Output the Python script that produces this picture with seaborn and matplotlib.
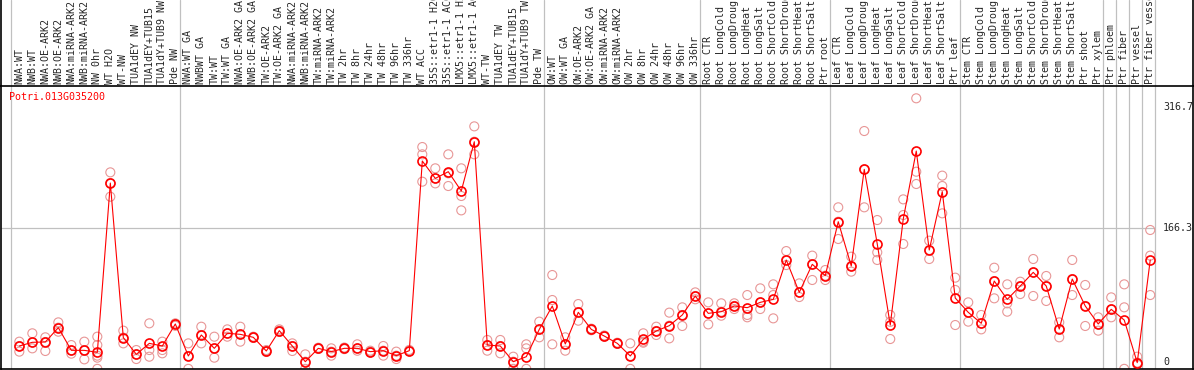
import numpy as np
import pandas as pd
import seaborn as sns
import matplotlib.pyplot as plt

labels = [
    "NWA:WT", "NWB:WT", "NWA:OE-ARK2", "NWB:OE-ARK2", "NWA:miRNA-ARK2", "NWB:miRNA-ARK2",
    "NW 0hr", "WT H2O", "WT-NW", "TUA1dEY NW", "TUA1dEY+TUB15", "TUA1dY+TUB9 NW", "Pde NW",
    "NWA:WT GA", "NWBWT GA", "TW:WT", "TW:WT GA", "NWA:OE-ARK2 GA", "NWB:OE-ARK2 GA",
    "TW:OE-ARK2", "TW:OE-ARK2 GA", "NWA:miRNA-ARK2", "NWB:miRNA-ARK2", "TW:miRNA-ARK2",
    "TW:miRNA-ARK2", "TW 2hr", "TW 8hr", "TW 24hr", "TW 48hr", "TW 96hr", "TW 336hr",
    "WT ACC", "35S::etr1-1 H2O", "35S::etr1-1 ACC", "LMX5::etr1-1 H2O", "LMX5::etr1-1 ACC",
    "WT-TW", "TUA1dEY TW", "TUA1dEY+TUB15", "TUA1dY+TUB9 TW", "Pde TW",
    "OW:WT", "OW:WT GA", "OW:OE-ARK2", "OW:OE-ARK2 GA", "OW:miRNA-ARK2", "OW:miRNA-ARK2",
    "OW 2hr", "OW 8hr", "OW 24hr", "OW 48hr", "OW 96hr", "OW 336hr",
    "Root CTR", "Root LongCold", "Root LongDrought", "Root LongHeat", "Root LongSalt",
    "Root ShortCold", "Root ShortDrought", "Root ShortHeat", "Root ShortSalt", "Ptr root",
    "Leaf CTR", "Leaf LongCold", "Leaf LongDrought", "Leaf LongHeat", "Leaf LongSalt",
    "Leaf ShortCold", "Leaf ShortDrought", "Leaf ShortHeat", "Leaf ShortSalt", "Ptr leaf",
    "Stem CTR", "Stem LongCold", "Stem LongDrought", "Stem LongHeat", "Stem LongSalt",
    "Stem ShortCold", "Stem ShortDrought", "Stem ShortHeat", "Stem ShortSalt", "Ptr shoot",
    "Ptr xylem", "Ptr phloem", "Ptr fiber", "Ptr vessel", "Ptr fiber vessel",
]

means = [
    19.9, 24.5, 24.9, 42.7, 14.5, 14.5, 12.0, 222.6, 30.3, 9.5, 23.2, 19.9, 47.3,
    7.5, 33.6, 17.0, 35.7, 34.4, 30.7, 13.7, 39.0, 19.9, 0.4, 17.0, 12.9, 17.0, 17.0,
    12.9, 14.1, 7.9, 14.1,
    250.0, 228.4, 236.7, 212.7, 274.0, 21.1, 19.9, 0.4, 6.6, 40.6,
    69.7, 22.4, 61.8, 40.6, 32.3, 23.2, 7.5, 28.2, 38.6, 45.2, 58.5, 82.1,
    60.5, 62.6, 69.7, 67.6, 74.2, 77.9, 126.9, 86.6, 121.5, 107.4,
    174.5, 119.4, 239.6, 146.8, 46.0, 177.9, 262.4, 139.3, 211.9, 79.6,
    61.8, 48.1, 100.7, 77.9, 94.5, 111.5, 94.5, 41.0, 103.2, 69.7, 47.3,
    65.5, 52.2, -0.8, 126.9,
]

# single replicates per sample
reps = [
    [25.3, 19.9, 12.9], [35.7, 24.5, 17.0], [30.7, 24.9, 13.7], [49.3, 42.7, 37.7],
    [21.1, 14.5, 10.4], [25.3, 14.5, 3.3], [31.5, 21.1, 7.9, 5.4, -8.5],
    [235.9, 222.6, 205.6], [39.0, 30.3, 23.2], [14.9, 9.5, 3.7], [48.1, 14.9, 6.6],
    [25.3, 14.9, 10.8], [48.1, 47.3, 45.0],
    [23.2, 7.5, -8.5], [43.9, 33.6, 23.2], [31.5, 17.0, 5.4], [40.6, 35.7, 31.5],
    [43.9, 34.4, 25.3], [30.7, 31.5, 29.9], [14.9, 13.7, 12.5], [40.6, 39.0, 37.4],
    [23.2, 19.9, 13.7], [9.5, 0.4, -8.5], [17.0, 17.8, 16.2], [17.0, 12.9, 7.9],
    [17.0, 18.0, 16.0], [22.0, 17.0, 14.0], [14.1, 12.9, 11.7], [19.9, 14.1, 7.9],
    [12.9, 7.9, 3.7], [14.1, 15.0, 13.2],
    [267.4, 258.3, 224.3], [240.9, 228.4, 222.2], [258.3, 234.7, 218.9],
    [240.9, 206.5, 188.6], [293.1, 274.0, 258.3], [27.4, 21.1, 14.1],
    [27.4, 19.9, 10.8], [6.6, 0.4, -8.5], [22.0, 17.0, -8.5], [50.2, 40.6, 30.7],
    [108.2, 77.1, 22.0], [30.7, 22.4, 14.1], [72.1, 61.8, 51.4], [40.6, 41.5, 39.5],
    [32.3, 33.0, 31.5], [23.2, 24.0, 22.5], [23.2, 7.5, -8.5], [35.7, 25.3, 24.0],
    [43.9, 38.6, 33.6], [61.4, 45.2, 29.4], [68.0, 58.5, 44.8], [86.6, 82.1, 78.0],
    [74.2, 60.5, 46.8], [73.0, 62.6, 57.6], [73.0, 69.7, 65.9], [83.3, 58.5, 55.6],
    [91.6, 74.2, 65.9], [96.6, 83.3, 54.3], [138.0, 126.9, 120.6], [97.8, 86.6, 80.8],
    [132.3, 121.5, 102.0], [114.4, 107.4, 102.0],
    [192.4, 174.5, 153.0], [131.0, 119.4, 112.4], [287.3, 239.6, 192.4],
    [176.6, 136.4, 126.9], [58.5, 50.0, 28.6], [202.3, 182.8, 146.8],
    [328.0, 236.7, 221.4], [150.9, 139.3, 128.1], [231.8, 218.9, 184.9],
    [104.9, 89.6, 46.0],
    [74.2, 61.8, 50.2], [58.5, 48.1, 40.6], [117.3, 100.7, 79.2], [96.6, 73.0, 62.6],
    [99.9, 94.5, 84.5], [128.1, 111.5, 82.1], [107.0, 94.5, 75.9], [49.3, 41.0, 30.7],
    [126.9, 103.2, 83.3], [95.8, 69.7, 44.8], [55.6, 47.3, 39.0],
    [80.4, 65.5, 55.6], [96.6, 68.0, -8.5], [6.6, -0.8, -3.0], [164.2, 132.3, 83.3],
]

group_ends = [-1, 12, 40, 52, 62, 72, 83, 84, 85, 86, 87]
y_marks = [0, 166.3, 316.7]
gene = "Potri.013G035200"

sns.set_style("white")
plt.rcParams['font.family'] = ['DejaVu Sans Mono']

W, H = 1194, 370
fig = plt.figure(figsize=(W / 100, H / 100), dpi=100)
ax = fig.add_axes([1 / W, 1 / H, 1192 / W, 283 / H])
ax_lab = fig.add_axes([1 / W, 284 / H, 1192 / W, 86 / H])
ax_lab.set_zorder(0)
ax.set_zorder(1)

pos = np.arange(len(labels))
rep_df = pd.DataFrame({
    'pos': np.repeat(pos, [len(r) for r in reps]),
    'value': np.concatenate(reps),
})

sns.scatterplot(data=rep_df, x='pos', y='value', ax=ax, marker='o', s=42,
                facecolor='none', edgecolor='#e89696', linewidth=0.8, zorder=2)
sns.lineplot(x=pos, y=means, ax=ax, color='red', lw=0.8, marker='o', markersize=6.5,
             markerfacecolor='none', markeredgecolor='red', markeredgewidth=1.2, zorder=3)

xlim = (-1.41, 90.29)
for a in (ax, ax_lab):
    a.set_xlim(*xlim)
    for g in group_ends:
        a.axvline(g + 0.36, color='#c0c0c0', lw=0.9, zorder=1)
ax.hlines(166.3, xlim[0], 87.36, color='#c0c0c0', lw=0.9, zorder=1)
ax.set_ylim(-8.7, 343.3)

ax.set_xticks(pos)
ax.set_xticklabels(labels, rotation=90, fontsize=7.2)
ax.xaxis.tick_top()
ax.tick_params(axis='x', length=0, pad=1.5)
ax.set_yticks([])
ax.set_xlabel('')
ax.set_ylabel('')

for v in y_marks:
    ax.text(87.98, v, f'{v:g}', fontsize=7.2, ha='left', va='center')
ax.text(0.007, 0.961, gene, color='red', fontsize=7.2, transform=ax.transAxes, va='center')

for s in ax.spines.values():
    s.set_color('black')
    s.set_linewidth(1.2)
ax_lab.set_xticks([])
ax_lab.set_yticks([])
ax_lab.spines['top'].set_visible(False)
ax_lab.spines['bottom'].set_visible(False)
for s in ('left', 'right'):
    ax_lab.spines[s].set_color('black')
    ax_lab.spines[s].set_linewidth(1.2)

fig.savefig('out.png', dpi=100, facecolor='white')
